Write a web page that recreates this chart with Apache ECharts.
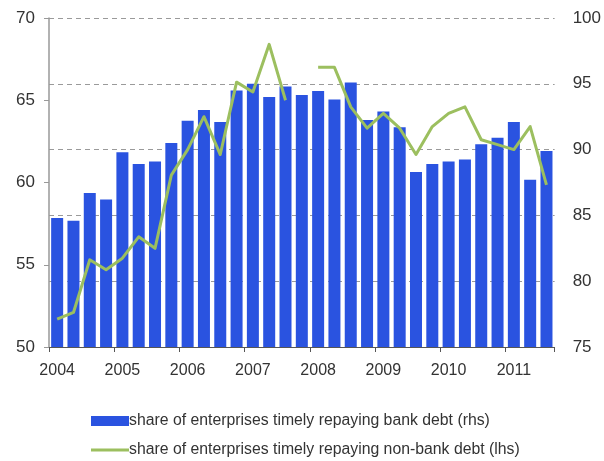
<!DOCTYPE html>
<html>
<head>
<meta charset="utf-8">
<script src="https://cdn.jsdelivr.net/npm/echarts@6/dist/echarts.min.js"></script>
<style>
  html, body { margin: 0; padding: 0; background: #fff; }
  #chart { width: 604px; height: 461px; }
</style>
</head>
<body>
<div id="chart"></div>
<script>
// Quarterly periods, 2004 Q1 to 2011 Q3
const quarters = [
  '2004 Q1','2004 Q2','2004 Q3','2004 Q4',
  '2005 Q1','2005 Q2','2005 Q3','2005 Q4',
  '2006 Q1','2006 Q2','2006 Q3','2006 Q4',
  '2007 Q1','2007 Q2','2007 Q3','2007 Q4',
  '2008 Q1','2008 Q2','2008 Q3','2008 Q4',
  '2009 Q1','2009 Q2','2009 Q3','2009 Q4',
  '2010 Q1','2010 Q2','2010 Q3','2010 Q4',
  '2011 Q1','2011 Q2','2011 Q3'
];

// Share of enterprises timely repaying bank debt, % (right-hand scale)
const bankDebt = [
  84.8, 84.6, 86.7, 86.2, 89.8, 88.9, 89.1, 90.5,
  92.2, 93.0, 92.1, 94.5, 95.0, 94.0, 94.8, 94.15,
  94.45, 93.8, 95.1, 92.25, 92.9, 91.7, 88.3, 88.9,
  89.1, 89.25, 90.4, 90.9, 92.1, 87.7, 89.9
];

// Share of enterprises timely repaying non-bank debt, % (left-hand scale)
const nonBankDebt = [
  51.7, 52.1, 55.3, 54.7, 55.4, 56.7, 56.0, 60.45,
  62.0, 64.0, 61.7, 66.1, 65.5, 68.4, 65.0, null,
  67.0, 67.0, 64.6, 63.3, 64.2, 63.3, 61.7, 63.4,
  64.2, 64.6, 62.6, 62.3, 62.0, 63.4, 59.85
];

const leftTicks = { min: 50, max: 70, step: 5 };
const rightTicks = { min: 75, max: 100, step: 5 };

const seriesNames = [
  'share of enterprises timely repaying bank debt (rhs)',
  'share of enterprises timely repaying non-bank debt (lhs)'
];

const FONT = "'Liberation Sans', Arial, sans-serif";
const TEXT = '#333333';
const BLUE = '#2a53e0';
const GREEN = '#9cbf5f';

const legendText = { fontFamily: FONT, fontSize: 15.8, color: TEXT, padding: [0, 0, 0, -5] };

const chart = echarts.init(document.getElementById('chart'), null, { renderer: 'canvas' });

chart.setOption({
  animation: false,
  backgroundColor: '#ffffff',
  grid: { left: 49, right: 44, top: 18, bottom: 114, containLabel: false },
  legend: [
    {
      left: 86, top: 408,
      itemWidth: 38, itemHeight: 10,
      data: [{ name: seriesNames[0], icon: 'rect' }],
      textStyle: legendText
    },
    {
      left: 86, top: 437,
      itemWidth: 38, itemHeight: 3,
      data: [{ name: seriesNames[1], icon: 'rect', itemStyle: { color: GREEN } }],
      textStyle: legendText
    }
  ],
  xAxis: {
    type: 'category',
    data: quarters,
    boundaryGap: true,
    axisLine: { show: true, lineStyle: { color: '#555555', width: 1 } },
    axisTick: {
      show: true,
      interval: (i) => i % 4 === 0,
      length: 5,
      lineStyle: { color: '#555555' }
    },
    axisLabel: {
      interval: 3,
      margin: 16,
      fontFamily: FONT,
      fontSize: 16,
      color: TEXT,
      formatter: (v) => v.slice(0, 4)
    },
    splitLine: { show: false }
  },
  yAxis: [
    {
      type: 'value',
      position: 'left',
      min: leftTicks.min,
      max: leftTicks.max,
      interval: leftTicks.step,
      axisLine: { show: true, lineStyle: { color: '#999999', width: 1.5 } },
      axisTick: { show: true, length: 5, lineStyle: { color: '#999999' } },
      axisLabel: { margin: 14, fontFamily: FONT, fontSize: 17, color: TEXT },
      splitLine: { show: false }
    },
    {
      type: 'value',
      position: 'right',
      min: rightTicks.min,
      max: rightTicks.max,
      interval: rightTicks.step,
      axisLine: { show: false },
      axisTick: { show: false },
      axisLabel: { margin: 18, fontFamily: FONT, fontSize: 17, color: TEXT },
      splitLine: { show: true, lineStyle: { color: '#9a9a9a', type: [5, 4], width: 1 } }
    }
  ],
  series: [
    {
      name: seriesNames[0],
      type: 'bar',
      yAxisIndex: 1,
      data: bankDebt,
      barWidth: 12,
      itemStyle: { color: BLUE }
    },
    {
      name: seriesNames[1],
      type: 'line',
      yAxisIndex: 0,
      data: nonBankDebt,
      connectNulls: false,
      symbol: 'none',
      lineStyle: { color: GREEN, width: 3, join: 'round' },
      itemStyle: { color: GREEN }
    }
  ]
});
</script>
</body>
</html>
